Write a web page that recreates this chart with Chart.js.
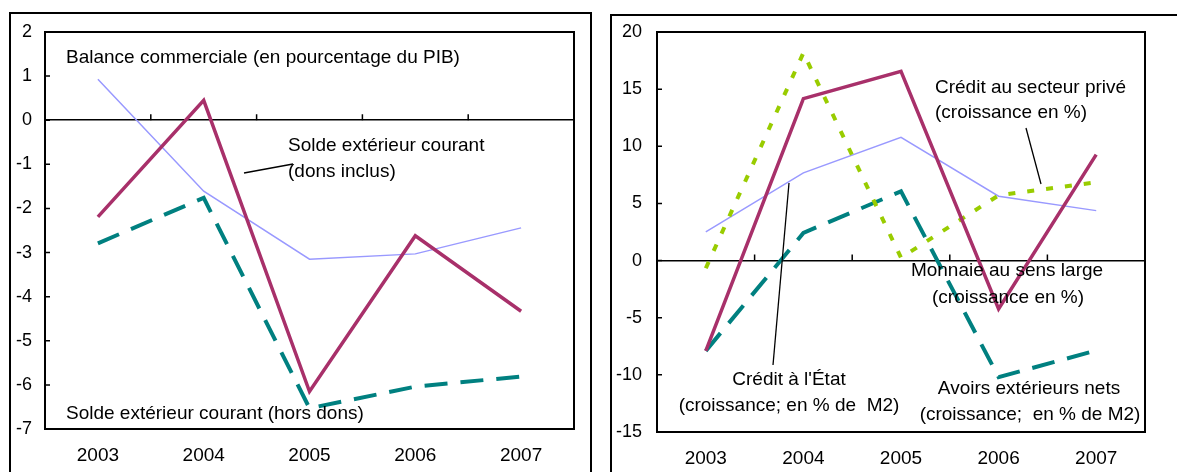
<!DOCTYPE html>
<html>
<head>
<meta charset="utf-8">
<script src="https://cdn.jsdelivr.net/npm/chart.js@4"></script>
<style>
  body { margin: 0; background: #fff; width: 1177px; height: 472px; overflow: hidden; position: relative; }
  .cadre { position: absolute; border: 2px solid #000; box-sizing: border-box; }
  canvas { position: absolute; top: 0; }
</style>
</head>
<body>
<div class="cadre" style="left:9px; top:12px; width:583px; height:480px;"></div>
<div class="cadre" style="left:610px; top:14px; width:600px; height:480px;"></div>
<canvas id="gauche" width="600" height="472" style="left:0"></canvas>
<canvas id="droite" width="577" height="472" style="left:600px"></canvas>
<script>
// data
var years = ['2003', '2004', '2005', '2006', '2007'];

var balanceCommerciale = [0.93, -1.61, -3.15, -3.03, -2.44];
var soldeDonsInclus = [-2.19, 0.45, -6.15, -2.62, -4.33];
var soldeHorsDons = [-2.79, -1.76, -6.53, -6.04, -5.81];

var monnaieSensLarge = [-7.9, 14.17, 16.56, -4.23, 9.27];
var creditPrive = [-0.67, 18.17, 0.25, 5.71, 6.85];
var creditEtat = [2.51, 7.67, 10.79, 5.63, 4.37];
var avoirsExterieurs = [-7.9, 2.42, 6.06, -10.2, -7.87];

var leftAxis = { min: -7, max: 2, step: 1 };
var rightAxis = { min: -15, max: 20, step: 5 };

var FONT = '"Liberation Sans", Arial, sans-serif';
var MAGENTA = '#a8306a', TEAL = '#008080', BLEU = '#9999ff', VERT = '#99cc00';

// frame, inward ticks, notes and leader lines
var cadrePlugin = {
  id: 'cadre',
  beforeDatasetsDraw: function (chart) {
    var ctx = chart.ctx, a = chart.chartArea, x = chart.scales.x, y = chart.scales.y;
    ctx.save();
    ctx.strokeStyle = '#000';
    ctx.lineWidth = 2;
    ctx.strokeRect(a.left, a.top, a.width, a.height);
    ctx.lineWidth = 1.5;
    ctx.beginPath();
    y.ticks.forEach(function (t) {
      var py = y.getPixelForValue(t.value);
      ctx.moveTo(a.left, py);
      ctx.lineTo(a.left + 5, py);
    });
    var y0 = y.getPixelForValue(0);
    for (var i = 0; i < years.length - 1; i++) {
      var px = (x.getPixelForValue(i) + x.getPixelForValue(i + 1)) / 2;
      ctx.moveTo(px, y0);
      ctx.lineTo(px, y0 - 6);
    }
    ctx.stroke();
    ctx.restore();
  },
  afterDatasetsDraw: function (chart, args, opts) {
    var ctx = chart.ctx;
    ctx.save();
    ctx.fillStyle = '#000';
    ctx.strokeStyle = '#000';
    ctx.lineWidth = 1.3;
    ctx.font = '19px ' + FONT;
    ctx.textBaseline = 'middle';
    (opts.notes || []).forEach(function (n) {
      ctx.textAlign = n.align || 'left';
      ctx.fillText(n.text, n.x, n.y);
    });
    (opts.leaders || []).forEach(function (l) {
      ctx.beginPath();
      ctx.moveTo(l[0], l[1]);
      ctx.lineTo(l[2], l[3]);
      ctx.stroke();
    });
    ctx.restore();
  }
};

function makeOptions(axis, pad, xHeight, yWidth, yPad, notes, leaders) {
  return {
    responsive: false,
    animation: false,
    layout: { padding: pad },
    elements: { point: { radius: 0 }, line: { tension: 0 } },
    plugins: {
      legend: { display: false },
      tooltip: { enabled: false },
      cadre: { notes: notes, leaders: leaders }
    },
    scales: {
      x: {
        offset: true,
        grid: { display: false, drawTicks: false },
        border: { display: false },
        ticks: { color: '#000', font: { family: FONT, size: 19 }, padding: 15 },
        afterFit: function (s) { s.height = xHeight; }
      },
      y: {
        min: axis.min,
        max: axis.max,
        grid: {
          drawTicks: false,
          lineWidth: 1.5,
          color: function (c) { return c.tick && c.tick.value === 0 ? '#000' : 'rgba(0,0,0,0)'; }
        },
        border: { display: false },
        ticks: { stepSize: axis.step, color: '#000', font: { family: FONT, size: 18 }, padding: yPad },
        afterFit: function (s) { s.width = yWidth; }
      }
    }
  };
}

new Chart(document.getElementById('gauche'), {
  type: 'line',
  data: {
    labels: years,
    datasets: [
      { label: 'Balance commerciale', data: balanceCommerciale, borderColor: BLEU, borderWidth: 1.5, order: 3 },
      { label: 'Solde extérieur courant (hors dons)', data: soldeHorsDons, borderColor: TEAL, borderWidth: 4, borderDash: [23, 13], order: 2 },
      { label: 'Solde extérieur courant (dons inclus)', data: soldeDonsInclus, borderColor: MAGENTA, borderWidth: 3.5, order: 1 }
    ]
  },
  options: makeOptions(leftAxis, { left: 0, top: 32, right: 26, bottom: 0 }, 43, 45, 13, [
    { text: 'Balance commerciale (en pourcentage du PIB)', x: 66, y: 58 },
    { text: 'Solde extérieur courant', x: 288, y: 146 },
    { text: '(dons inclus)', x: 288, y: 172 },
    { text: 'Solde extérieur courant (hors dons)', x: 66, y: 414 }
  ], [[244, 173, 293, 164]]),
  plugins: [cadrePlugin]
});

new Chart(document.getElementById('droite'), {
  type: 'line',
  data: {
    labels: years,
    datasets: [
      { label: "Crédit à l'État", data: creditEtat, borderColor: BLEU, borderWidth: 1.5, order: 4 },
      { label: 'Avoirs extérieurs nets', data: avoirsExterieurs, borderColor: TEAL, borderWidth: 4, borderDash: [23, 13], order: 3 },
      { label: 'Crédit au secteur privé', data: creditPrive, borderColor: VERT, borderWidth: 4, borderDash: [7, 12], order: 2 },
      { label: 'Monnaie au sens large', data: monnaieSensLarge, borderColor: MAGENTA, borderWidth: 3.5, order: 1 }
    ]
  },
  options: makeOptions(rightAxis, { left: 0, top: 32, right: 32, bottom: 0 }, 40, 57, 15, [
    { text: 'Crédit au secteur privé', x: 335, y: 88 },
    { text: '(croissance en %)', x: 335, y: 113 },
    { text: 'Monnaie au sens large', x: 407, y: 271, align: 'center' },
    { text: '(croissance en %)', x: 408, y: 298, align: 'center' },
    { text: "Crédit à l'État", x: 189, y: 380, align: 'center' },
    { text: '(croissance; en % de  M2)', x: 189, y: 406, align: 'center' },
    { text: 'Avoirs extérieurs nets', x: 429, y: 389, align: 'center' },
    { text: '(croissance;  en % de M2)', x: 430, y: 415, align: 'center' }
  ], [[426, 128, 441, 184], [173, 365, 189, 183]]),
  plugins: [cadrePlugin]
});
</script>
</body>
</html>
